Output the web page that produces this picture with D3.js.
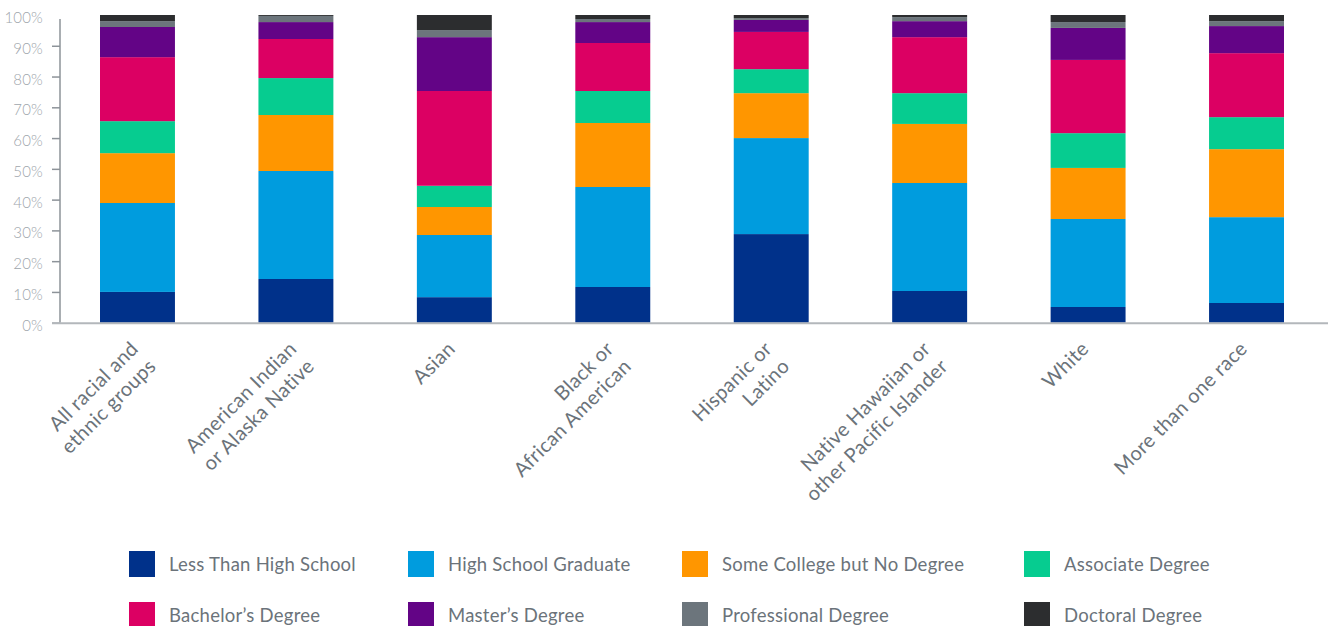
<!DOCTYPE html>
<html>
<head>
<meta charset="utf-8">
<script src="https://cdn.jsdelivr.net/npm/d3@7"></script>
<style>
  html, body { margin: 0; padding: 0; background: #fff; }
  svg { display: block; }
  .tick text { font-family: Lato, "Noto Sans", sans-serif; }
</style>
</head>
<body>
<svg id="chart" width="1328" height="626"></svg>
<script>
// Race / ethnicity groups (x categories); "\n" splits a label into lines
const groups = [
  "All racial and\nethnic groups",
  "American Indian\nor Alaska Native",
  "Asian",
  "Black or\nAfrican American",
  "Hispanic or\nLatino",
  "Native Hawaiian or\nother Pacific Islander",
  "White",
  "More than one race"
];

// Educational attainment levels, stacked from the bottom up
const levels = [
  "Less Than High School",
  "High School Graduate",
  "Some College but No Degree",
  "Associate Degree",
  "Bachelor’s Degree",
  "Master’s Degree",
  "Professional Degree",
  "Doctoral Degree"
];

// Share of each group (percent), one array per attainment level
const lessThanHighSchool = [10.0, 14.2,  8.3, 11.6, 28.8, 10.3,  5.1,  6.4];
const highSchoolGraduate = [28.9, 35.1, 20.2, 32.5, 31.2, 35.1, 28.6, 27.9];
const someCollege        = [16.2, 18.2,  9.1, 20.8, 14.6, 19.2, 16.6, 22.1];
const associateDegree    = [10.4, 12.0,  6.9, 10.4,  7.8, 10.0, 11.3, 10.4];
const bachelorsDegree    = [20.8, 12.7, 30.8, 15.6, 12.1, 18.2, 23.8, 20.8];
const mastersDegree      = [ 9.8,  5.5, 17.5,  6.8,  3.9,  5.2, 10.4,  8.8];
const professionalDegree = [ 1.9,  2.0,  2.3,  1.0,  0.6,  1.3,  1.9,  1.6];
const doctoralDegree     = [ 2.0,  0.3,  4.9,  1.3,  1.0,  0.7,  2.3,  2.0];

const seriesValues = [
  lessThanHighSchool, highSchoolGraduate, someCollege, associateDegree,
  bachelorsDegree, mastersDegree, professionalDegree, doctoralDegree
];

// Y axis ticks (percent)
const yTicks = [0, 10, 20, 30, 40, 50, 60, 70, 80, 90, 100];

const colors = ["#00318a", "#009cde", "#ff9600", "#06cc90", "#dc0063", "#630486", "#6c757c", "#2c2d2f"];

// Build a row per group for d3.stack
const rows = groups.map((g, i) => {
  const r = { group: g };
  levels.forEach((l, j) => { r[l] = seriesValues[j][i]; });
  return r;
});
const stacked = d3.stack().keys(levels)(rows);

const svg = d3.select("#chart");
const textColor = "#6b737a";
const labelFont = "Lato, 'Noto Sans', sans-serif";

const x = d3.scaleBand()
  .domain(groups)
  .range([60, 1324])
  .paddingInner(0.527)
  .paddingOuter(0.2525);

const y = d3.scaleLinear().domain([0, 100]).range([322.7, 15]);

// Y axis ticks and labels
const yAxis = d3.axisLeft(y)
  .tickValues(yTicks)
  .tickFormat(d => d + "%")
  .tickSize(8)
  .tickPadding(9);

const yg = svg.append("g").attr("transform", "translate(60,0)").call(yAxis);
yg.select(".domain").remove();
yg.selectAll(".tick line").attr("stroke", "#8d9399").attr("stroke-width", 1.5)
  .filter(d => d === 100).remove();
yg.selectAll(".tick text")
  .attr("fill", "#9ea5ab")
  .attr("font-size", 15)
  .attr("font-weight", 300)
  .attr("letter-spacing", 0.2)
  .attr("dy", "0.5em");

// Vertical axis line
svg.append("line")
  .attr("x1", 60).attr("x2", 60)
  .attr("y1", y(100) + 4).attr("y2", y(0))
  .attr("stroke", "#8d9399").attr("stroke-width", 1.5);

// Stacked bars
svg.append("g")
  .selectAll("g")
  .data(stacked)
  .join("g")
  .attr("fill", (d, i) => colors[i])
  .selectAll("rect")
  .data(d => d)
  .join("rect")
  .attr("x", d => x(d.data.group))
  .attr("width", x.bandwidth())
  .attr("y", d => y(d[1]))
  .attr("height", d => y(d[0]) - y(d[1]));

// Baseline
svg.append("line")
  .attr("x1", 52).attr("x2", 1328)
  .attr("y1", y(0) + 0.5).attr("y2", y(0) + 0.5)
  .attr("stroke", "#b3b7bb").attr("stroke-width", 2);

// Rotated category labels
const xl = svg.append("g")
  .selectAll("text")
  .data(groups)
  .join("text")
  .attr("transform", d => `translate(${x(d) + x.bandwidth() / 2 + 2},350) rotate(-45)`)
  .attr("text-anchor", "end")
  .attr("font-family", labelFont)
  .attr("font-size", 20)
  .attr("letter-spacing", 0.35)
  .attr("fill", textColor);
xl.selectAll("tspan")
  .data(d => d.split("\n"))
  .join("tspan")
  .attr("x", 0)
  .attr("dy", (d, i) => i === 0 ? 0 : "1.24em")
  .text(d => d);

// Legend: four columns, two rows
const legendX = [129, 408, 682, 1024];
const legendY = [551, 602];
const legend = svg.append("g")
  .selectAll("g")
  .data(levels)
  .join("g")
  .attr("transform", (d, i) => `translate(${legendX[i % 4]},${legendY[Math.floor(i / 4)]})`);
legend.append("rect")
  .attr("width", 26).attr("height", 26)
  .attr("fill", (d, i) => colors[i]);
legend.append("text")
  .attr("x", 40).attr("y", 13)
  .attr("dy", "0.36em")
  .attr("font-family", labelFont)
  .attr("font-size", 18.5)
  .attr("letter-spacing", 0.25)
  .attr("fill", textColor)
  .text(d => d);
</script>
</body>
</html>
